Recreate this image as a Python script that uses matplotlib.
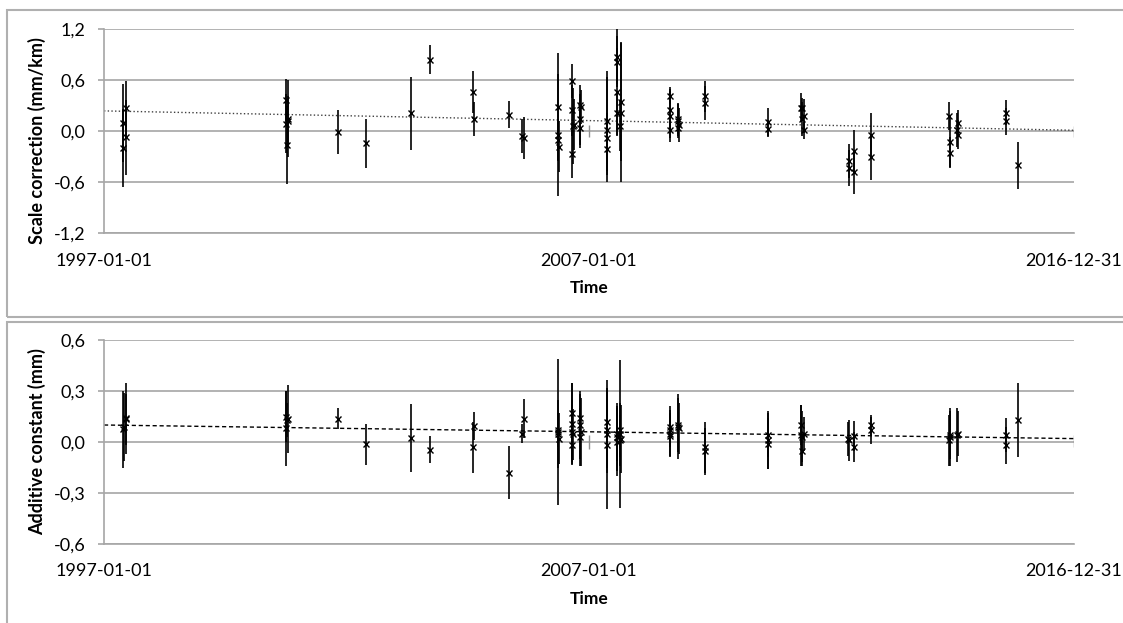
import numpy as np
import pandas as pd
import matplotlib
matplotlib.use('Agg')
import matplotlib.pyplot as plt
import matplotlib.dates as mdates
from matplotlib.patches import Rectangle

plt.rcParams['font.family'] = ['Lato', 'DejaVu Sans']

# scale correction (mm/km): decimal year, value, error
scale_year = [1997.40, 1997.40, 1997.45, 1997.45, 2000.75, 2000.75, 2000.78, 2000.80, 2000.80,
              2001.83, 2002.40, 2003.32, 2003.73, 2004.60, 2004.62, 2005.35, 2005.62, 2005.66,
              2006.36, 2006.36, 2006.36, 2006.38, 2006.64, 2006.64, 2006.66, 2006.64, 2006.68,
              2006.81, 2006.83, 2006.82, 2006.82, 2007.36, 2007.36, 2007.37, 2007.37,
              2007.57, 2007.57, 2007.57, 2007.58, 2007.65, 2007.65, 2007.64,
              2008.67, 2008.67, 2008.67, 2008.67, 2008.83, 2008.84, 2008.85, 2008.84,
              2009.38, 2009.38, 2010.68, 2010.69, 2011.37, 2011.39, 2011.38, 2011.44, 2011.44,
              2012.35, 2012.35, 2012.46, 2012.46, 2012.81, 2012.81,
              2014.42, 2014.45, 2014.44, 2014.60, 2014.59, 2014.60, 2015.59, 2015.59, 2015.85]
scale_val = [-0.20, 0.10, 0.27, -0.07, 0.37, 0.09, -0.16, 0.15, 0.12,
             -0.01, -0.14, 0.21, 0.84, 0.46, 0.15, 0.195, -0.05, -0.08,
             0.29, -0.04, -0.10, -0.18, 0.59, 0.25, 0.06, -0.27, 0.08,
             0.31, 0.29, 0.14, 0.04, 0.12, 0.02, -0.08, -0.21,
             0.88, 0.82, 0.46, 0.21, 0.35, 0.22, 0.065,
             0.42, 0.25, 0.18, 0.01, 0.15, 0.12, 0.07, 0.04,
             0.41, 0.33, 0.11, 0.03, 0.28, 0.27, 0.14, 0.18, 0.01,
             -0.35, -0.43, -0.23, -0.48, -0.04, -0.30,
             0.18, -0.12, -0.25, 0.10, 0.02, -0.04, 0.22, 0.12, -0.40]
scale_err = [0.46, 0.46, 0.32, 0.44, 0.25, 0.35, 0.46, 0.45, 0.30,
             0.26, 0.29, 0.43, 0.17, 0.25, 0.20, 0.16, 0.20, 0.25,
             0.63, 0.72, 0.25, 0.30, 0.20, 0.30, 0.45, 0.28, 0.30,
             0.24, 0.20, 0.30, 0.24, 0.59, 0.62, 0.30, 0.30,
             0.32, 0.30, 0.52, 0.25, 0.70, 0.82, 0.30,
             0.10, 0.25, 0.30, 0.09, 0.18, 0.20, 0.20, 0.10,
             0.18, 0.20, 0.17, 0.10, 0.17, 0.12, 0.20, 0.20, 0.10,
             0.20, 0.21, 0.25, 0.26, 0.25, 0.27,
             0.17, 0.30, 0.18, 0.15, 0.20, 0.17, 0.15, 0.16, 0.28]

# additive constant (mm)
add_year = [1997.40, 1997.41, 1997.45, 1997.46, 2000.75, 2000.75, 2000.80, 2000.78,
            2001.83, 2002.40, 2003.32, 2003.73, 2004.62, 2004.60, 2005.35, 2005.62, 2005.66,
            2006.36, 2006.36, 2006.37, 2006.35, 2006.64, 2006.64, 2006.65, 2006.66, 2006.64,
            2006.81, 2006.82, 2006.83, 2006.82, 2007.36, 2007.36, 2007.37, 2007.37,
            2007.57, 2007.57, 2007.58, 2007.63, 2007.64, 2007.65, 2007.64,
            2008.67, 2008.67, 2008.67, 2008.67, 2008.83, 2008.84, 2008.85,
            2009.38, 2009.38, 2010.68, 2010.68, 2010.69,
            2011.37, 2011.37, 2011.39, 2011.44, 2011.39,
            2012.35, 2012.34, 2012.46, 2012.46, 2012.81, 2012.81,
            2014.42, 2014.44, 2014.45, 2014.59, 2014.60, 2015.59, 2015.59, 2015.85]
add_val = [0.075, 0.09, 0.14, 0.135, 0.08, 0.15, 0.135, 0.13,
           0.137, -0.014, 0.024, -0.045, 0.094, -0.03, -0.18, 0.05, 0.137,
           0.06, 0.07, 0.02, 0.05, 0.17, 0.105, 0.06, 0.045, -0.015,
           0.14, 0.10, 0.06, 0.03, 0.12, 0.07, 0.05, -0.015,
           0.05, 0.03, 0.00, 0.045, 0.07, 0.02, 0.01,
           0.09, 0.07, 0.05, 0.035, 0.10, 0.09, 0.08,
           -0.03, -0.055, 0.04, 0.01, -0.01,
           0.10, 0.04, 0.03, 0.05, -0.05,
           0.01, 0.02, 0.035, -0.03, 0.10, 0.07,
           0.01, 0.03, 0.04, 0.04, 0.05, 0.04, -0.02, 0.13]
add_err = [0.225, 0.20, 0.21, 0.15, 0.22, 0.15, 0.20, 0.10,
           0.063, 0.12, 0.20, 0.08, 0.085, 0.15, 0.155, 0.055, 0.115,
           0.43, 0.10, 0.15, 0.20, 0.18, 0.24, 0.19, 0.15, 0.10,
           0.14, 0.20, 0.20, 0.17, 0.20, 0.25, 0.20, 0.38,
           0.16, 0.20, 0.20, 0.435, 0.16, 0.20, 0.15,
           0.12, 0.10, 0.14, 0.12, 0.16, 0.19, 0.15,
           0.15, 0.14, 0.13, 0.17, 0.15,
           0.12, 0.18, 0.15, 0.10, 0.09,
           0.12, 0.10, 0.09, 0.09, 0.06, 0.08,
           0.15, 0.17, 0.14, 0.16, 0.13, 0.10, 0.11, 0.22]

# small grey helper bars at 2007-01-01 and 2016-12-31
aux_dates = ['2007-01-01', '2016-12-31']
aux_scale_val = [0.0, 0.003]
aux_scale_err = [0.07, 0.065]
aux_add_val = [0.0, 0.005]
aux_add_err = [0.04, 0.035]

# linear trends
trend_dates = ['1997-01-01', '2016-12-31']
trend_scale = [0.24, 0.012]
trend_add = [0.10, 0.02]

x_ticks = ['1997-01-01', '2007-01-01', '2016-12-31']
scale_ticks = [-1.2, -0.6, 0.0, 0.6, 1.2]
scale_ticklabels = ['-1,2', '-0,6', '0,0', '0,6', '1,2']
add_ticks = [-0.6, -0.3, 0.0, 0.3, 0.6]
add_ticklabels = ['-0,6', '-0,3', '0,0', '0,3', '0,6']


def to_dates(years):
    years = np.asarray(years)
    return pd.to_datetime('1997-01-01') + pd.to_timedelta((years - 1997.0) * 365.25, unit='D')


W, H = 1123, 623
fig = plt.figure(figsize=(W / 100, H / 100), dpi=100)

# chart frames
fig.patches.append(Rectangle((7, H - 317), W, 307, transform=None, fill=False,
                             edgecolor='#b0b0b0', lw=1.5))
fig.patches.append(Rectangle((7, -20), W, H - 322 + 20, transform=None, fill=False,
                             edgecolor='#b0b0b0', lw=1.5))

ax1 = fig.add_axes([104 / W, 1 - 233.3 / H, 970 / W, 204 / H])
ax2 = fig.add_axes([104 / W, 1 - 544 / H, 970 / W, 204 / H])

panels = [
    (ax1, scale_year, scale_val, scale_err, aux_scale_val, aux_scale_err, trend_scale, ':',
     '#404040', scale_ticks, scale_ticklabels, 'Scale correction (mm/km)', 0.453),
    (ax2, add_year, add_val, add_err, aux_add_val, aux_add_err, trend_add, (0, (3, 2)),
     'black', add_ticks, add_ticklabels, 'Additive constant (mm)', 0.5),
]

for ax, yr, val, err, aval, aerr, trend, ls, tcol, yt, ytl, ylab, ylab_y in panels:
    ax.errorbar(to_dates(yr), val, yerr=err, fmt='x', color='black', ms=5, mew=1,
                elinewidth=1.2, capsize=0, zorder=3)
    ax.errorbar(pd.to_datetime(aux_dates), aval, yerr=aerr, fmt='none', ecolor='#909090',
                elinewidth=1, capsize=0, zorder=3)
    ax.plot(pd.to_datetime(trend_dates), trend, linestyle=ls, color=tcol, lw=1, zorder=2)

    ax.set_xlim(pd.to_datetime(x_ticks[0]), pd.to_datetime(x_ticks[-1]))
    ax.set_xticks(pd.to_datetime(x_ticks))
    ax.xaxis.set_major_formatter(mdates.DateFormatter('%Y-%m-%d'))
    ax.set_ylim(yt[0], yt[-1])
    ax.set_yticks(yt)
    ax.set_yticklabels(ytl)
    ax.grid(axis='y', color='#a6a6a6', lw=1.2)
    ax.set_axisbelow(True)
    for s in ['top', 'right']:
        ax.spines[s].set_visible(False)
    for s in ['left', 'bottom']:
        ax.spines[s].set_color('#a6a6a6')
        ax.spines[s].set_linewidth(1.2)
    ax.tick_params(axis='y', length=4.5, width=1.2, color='#a6a6a6', pad=9, labelsize=13)
    ax.tick_params(axis='x', length=0, pad=14, labelsize=13)

    ax.set_ylabel(ylab, fontsize=13, fontweight='bold')
    ax.yaxis.set_label_coords(-0.069, ylab_y)
    ax.set_xlabel('Time', fontsize=12.5, fontweight='bold')
    ax.xaxis.set_label_coords(0.5, -0.27)
    ax.xaxis.label.set_va('center')
    ax.yaxis.label.set_va('center')

fig.savefig('out.png', dpi=100)
